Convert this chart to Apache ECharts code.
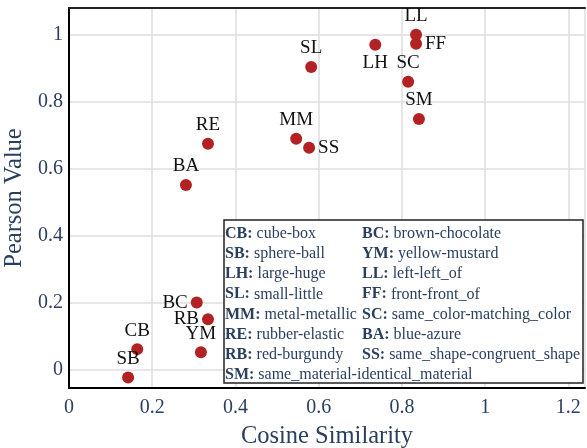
<!DOCTYPE html>
<html><head><meta charset="utf-8">
<script src="https://cdn.jsdelivr.net/npm/echarts@6/dist/echarts.min.js"></script>
<style>html,body{margin:0;padding:0;background:#fff}#c{width:587px;height:448px}</style>
</head><body><div id="c"></div>
<script>
const names = ['SB','CB','BA','RE','BC','RB','YM','MM','SS','SL','LH','LL','FF','SC','SM'];
const cosine = [0.142,0.164,0.281,0.334,0.307,0.334,0.317,0.546,0.577,0.582,0.736,0.834,0.834,0.815,0.841];
const pearson = [-0.023,0.062,0.552,0.675,0.201,0.151,0.053,0.690,0.663,0.904,0.970,1.000,0.973,0.860,0.749];
const labelPos = ['top','top','top','top','left','left','top','top','right','top','bottom','top','right','top','top'];
const legendKeys = ['CB','BC','SB','YM','LH','LL','SL','FF','MM','SC','RE','BA','RB','SS','SM'];
const legendText = ['cube-box','brown-chocolate','sphere-ball','yellow-mustard','large-huge','left-left_of','small-little','front-front_of','metal-metallic','same_color-matching_color','rubber-elastic','blue-azure','red-burgundy','same_shape-congruent_shape','same_material-identical_material'];

const serif = 'Liberation Serif';
const fmt = v => Math.abs(v) < 1e-9 ? '0' : String(+v.toFixed(2));

const data = names.map((n,i)=>({value:[cosine[i],pearson[i]],name:n,label:{position:labelPos[i]}}));

const graphics = [{type:'rect',x:224,y:220,shape:{width:359,height:163},style:{fill:'#fff',stroke:'#222',lineWidth:1.5},z:100}];
for (let i=0;i<legendKeys.length;i++){
  const col = i%2, row = Math.floor(i/2);
  graphics.push({type:'text', x: col===0?225:362, y: 234 + row*20.1, z:101,
    style:{text:'{b|'+legendKeys[i]+':} '+legendText[i],
      rich:{b:{fontWeight:'bold',fontFamily:serif,fontSize:16,fill:'#2a3f5f'}},
      fontFamily:serif,fontSize:16,fill:'#2a3f5f',verticalAlign:'middle'}});
}

const chart = echarts.init(document.getElementById('c'));
chart.setOption({
  animation:false,
  grid:{left:69,right:2,top:8,bottom:60,containLabel:false,outerBoundsMode:'none'},
  xAxis:[{type:'value',min:0,max:1.24,splitNumber:6,
    name:'Cosine Similarity',nameLocation:'middle',nameGap:36,
    nameTextStyle:{fontFamily:serif,fontSize:24.5,color:'#2a3f5f'},
    axisLine:{show:true,onZero:false,lineStyle:{color:'#000',width:2}},
    axisTick:{show:false},
    axisLabel:{fontFamily:serif,fontSize:20,color:'#2a3f5f',margin:10,formatter:fmt,showMaxLabel:false},
    splitLine:{lineStyle:{color:'#dedede',width:1.5}}},
   {type:'value',position:'top',min:0,max:1.24,axisLine:{show:true,onZero:false,lineStyle:{color:'#222',width:2}},axisTick:{show:false},axisLabel:{show:false},splitLine:{show:false}}],
  yAxis:{type:'value',min:-0.054,max:1.08,splitNumber:6,
    name:'Pearson Value',nameLocation:'middle',nameGap:39,
    nameTextStyle:{fontFamily:serif,fontSize:24.5,color:'#2a3f5f'},
    axisLine:{show:true,onZero:false,lineStyle:{color:'#000',width:2}},
    axisTick:{show:false},
    axisLabel:{fontFamily:serif,fontSize:20,color:'#2a3f5f',margin:6,formatter:fmt,showMinLabel:false,showMaxLabel:false},
    splitLine:{lineStyle:{color:'#dedede',width:1.5}}},
  series:[{type:'scatter',xAxisIndex:0,data:data,symbolSize:12,
    itemStyle:{color:'#b22222',opacity:1},
    label:{show:true,formatter:p=>p.name,fontFamily:serif,fontSize:19,color:'#111',distance:3}}],
  graphic:graphics
});
</script></body></html>
